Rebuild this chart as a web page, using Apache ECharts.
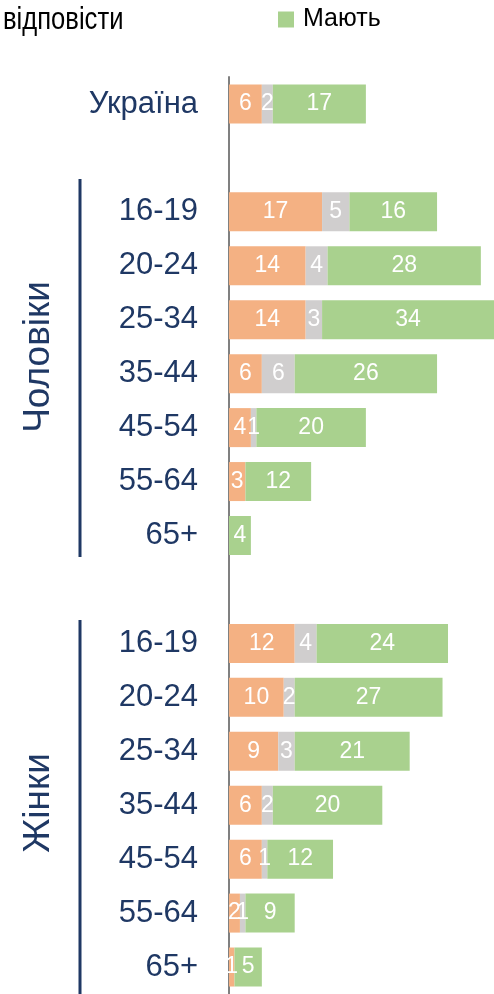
<!DOCTYPE html>
<html><head><meta charset="utf-8">
<script src="https://cdn.jsdelivr.net/npm/echarts@6/dist/echarts.min.js"></script>
<style>html,body{margin:0;padding:0;background:#fff}#c{width:494px;height:994px}</style>
</head><body><div id="c"></div>
<script>
const categories = ['Україна', '', '16-19', '20-24', '25-34', '35-44', '45-54', '55-64', '65+', ' ', '16-19', '20-24', '25-34', '35-44', '45-54', '55-64', '65+'];
const notHave = [6, null, 17, 14, 14, 6, 4, 3, 0, null, 12, 10, 9, 6, 6, 2, 1];
const hardToSay = [2, null, 5, 4, 3, 6, 1, 0, 0, null, 4, 2, 3, 2, 1, 1, 0];
const have = [17, null, 16, 28, 34, 26, 20, 12, 4, null, 24, 27, 21, 20, 12, 9, 5];
const seriesNames = ['Не мають', 'Важко відповісти', 'Мають'];
const groupNames = ['Чоловіки', 'Жінки'];

const chart = echarts.init(document.getElementById('c'));
const FONT = '"Liberation Sans", Arial, sans-serif';
const navy = '#1F3864';
const lbl = {
  show: true, position: 'inside', color: '#fff', fontFamily: FONT, fontSize: 23,
  formatter: p => (p.value ? p.value : '')
};
function mk(name, data, color) {
  return { name, type: 'bar', stack: 's', data, barWidth: 39, itemStyle: { color }, label: lbl, emphasis: { disabled: true } };
}
chart.setOption({
  animation: false,
  legend: {
    data: [seriesNames[2]], left: 278, top: 7, padding: 0, icon: 'rect', itemWidth: 16, itemHeight: 16, itemGap: 8,
    textStyle: { fontFamily: FONT, fontSize: 25, color: '#000', padding: [0, 0, 0, 4] }
  },
  grid: { left: 229, right: 0, top: 77, bottom: 0, containLabel: false },
  xAxis: { type: 'value', min: 0, max: 48.4, show: false },
  yAxis: {
    type: 'category', data: categories, inverse: true,
    axisLine: { show: true, lineStyle: { color: '#808080', width: 2 } },
    axisTick: { show: false },
    axisLabel: { margin: 31, color: navy, fontFamily: FONT, fontSize: 31 }
  },
  series: [
    mk(seriesNames[0], notHave, '#F4B183'),
    mk(seriesNames[1], hardToSay, '#D0CECE'),
    mk(seriesNames[2], have, '#A9D18E')
  ],
  graphic: [
    { type: 'text', x: 3, y: 4, scaleX: 0.8, style: { text: 'відповісти', font: '32px ' + FONT, fill: '#000', verticalAlign: 'top' } },
    { type: 'text', x: 39, y: 357, rotation: Math.PI / 2, style: { text: groupNames[0], font: '37px ' + FONT, fill: navy, align: 'center', verticalAlign: 'middle' } },
    { type: 'text', x: 39, y: 803, rotation: Math.PI / 2, style: { text: groupNames[1], font: '37px ' + FONT, fill: navy, align: 'center', verticalAlign: 'middle' } },
    { type: 'line', shape: { x1: 80, y1: 179, x2: 80, y2: 557 }, style: { stroke: navy, lineWidth: 3 } },
    { type: 'line', shape: { x1: 80, y1: 620, x2: 80, y2: 994 }, style: { stroke: navy, lineWidth: 3 } }
  ]
});
</script></body></html>
